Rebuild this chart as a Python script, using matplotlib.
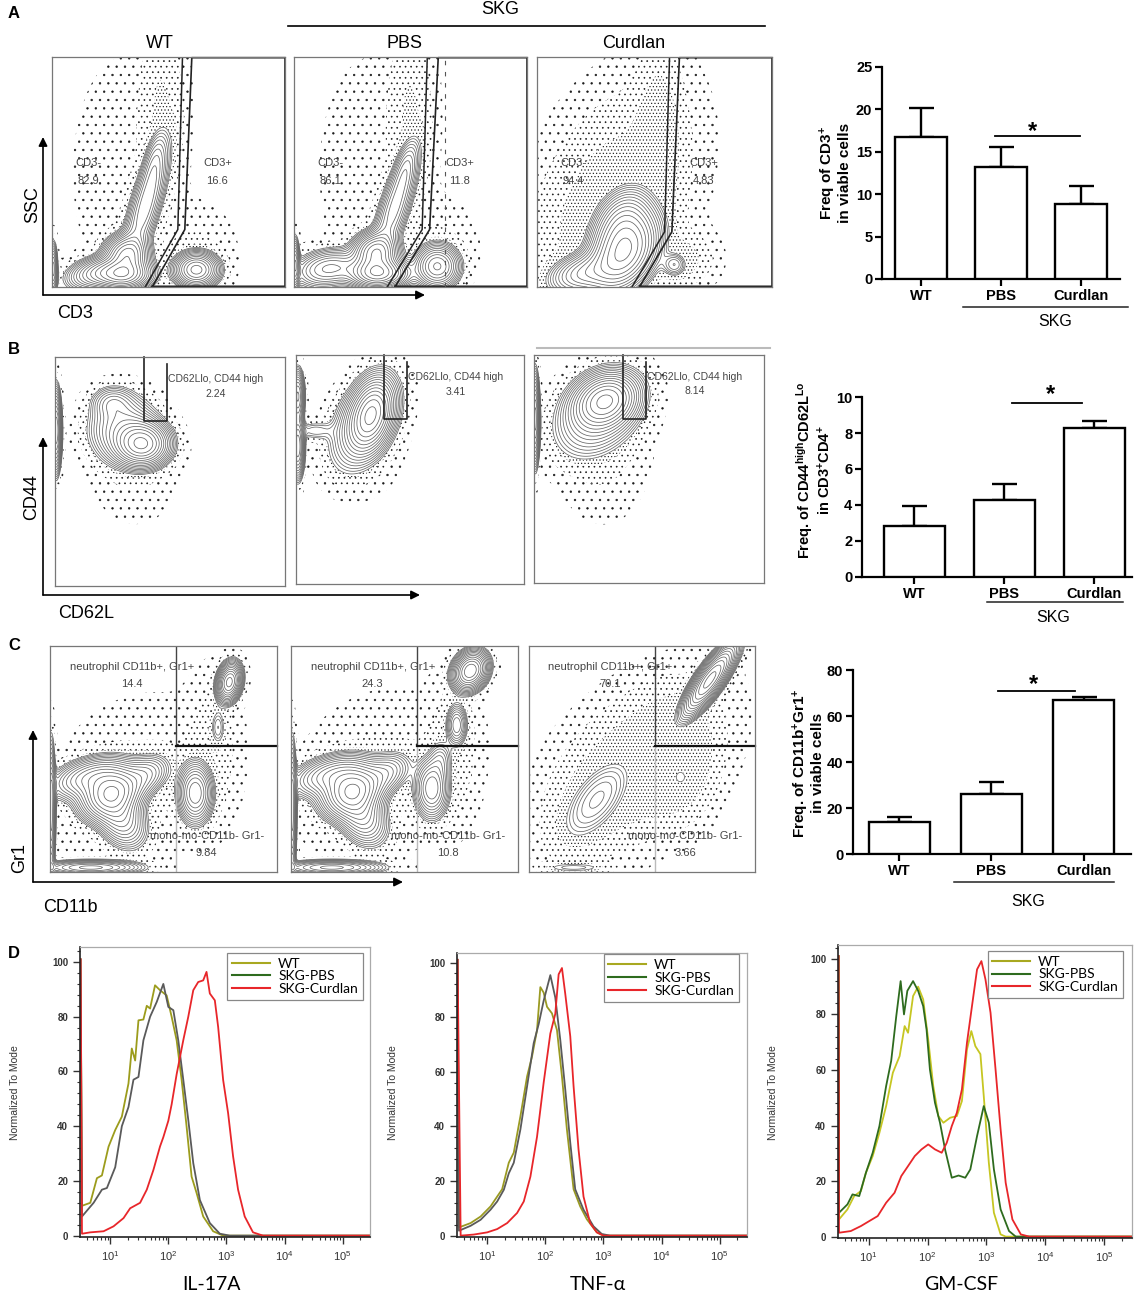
import numpy as np
import matplotlib
matplotlib.use('Agg')
import matplotlib.pyplot as plt
from matplotlib.lines import Line2D
from matplotlib.ticker import FixedLocator, LogLocator, LogFormatterSciNotation, MultipleLocator, NullFormatter

plt.rcParams['font.family'] = ['Liberation Sans', 'DejaVu Sans']
plt.rcParams['mathtext.fontset'] = 'custom'
plt.rcParams['mathtext.rm'] = 'Liberation Sans'
plt.rcParams['mathtext.bf'] = 'Liberation Sans:bold'
plt.rcParams['mathtext.it'] = 'Liberation Sans:italic'
plt.rcParams['hatch.color'] = '#1a1a1a'
plt.rcParams['hatch.linewidth'] = 0.45

W, H = 1135, 1297

# ---------------- bar chart data ----------------
groups = ['WT', 'PBS', 'Curdlan']
cd3_mean = [16.8, 13.2, 8.85]
cd3_top = [20.2, 15.6, 11.0]
cd44_mean = [2.85, 4.3, 8.3]
cd44_top = [3.92, 5.15, 8.65]
gr1_mean = [13.8, 26.1, 66.8]
gr1_top = [15.9, 31.2, 68.4]

# ---------------- flow plot data ----------------
# density components (cx, cy, sx, sy, rho, weight) in relative box units
a_wt_core = [(0.30, 0.055, 0.065, 0.035, 0.0, 1.0), (0.32, 0.14, 0.05, 0.045, 0.0, 0.7),
             (0.40, 0.35, 0.055, 0.15, 0.75, 0.35), (0.44, 0.55, 0.03, 0.08, 0.5, 0.12),
             (0.19, 0.06, 0.07, 0.04, 0.3, 0.35), (0.62, 0.075, 0.05, 0.04, 0.0, 0.8),
             (0.005, 0.08, 0.01, 0.06, 0.0, 0.4)]
a_wt_halo = [(0.47, 0.80, 0.06, 0.25, 0.0, 0.03), (0.30, 0.50, 0.15, 0.35, 0.0, 0.008),
             (0.62, 0.15, 0.10, 0.12, 0.0, 0.015)]
a_pbs_core = [(0.36, 0.06, 0.065, 0.035, 0.0, 1.0), (0.35, 0.15, 0.05, 0.045, 0.0, 0.75),
              (0.43, 0.34, 0.055, 0.14, 0.75, 0.3), (0.48, 0.52, 0.03, 0.07, 0.5, 0.12),
              (0.15, 0.08, 0.08, 0.045, 0.2, 0.35), (0.615, 0.09, 0.05, 0.05, 0.0, 0.55),
              (0.005, 0.10, 0.01, 0.06, 0.0, 0.4)]
a_pbs_halo = [(0.50, 0.78, 0.06, 0.25, 0.0, 0.03), (0.32, 0.50, 0.15, 0.35, 0.0, 0.008),
              (0.63, 0.18, 0.10, 0.12, 0.0, 0.012)]
a_cur_core = [(0.37, 0.15, 0.075, 0.09, 0.35, 1.0), (0.36, 0.28, 0.065, 0.08, 0.3, 0.35),
              (0.20, 0.06, 0.08, 0.05, 0.3, 0.3), (0.585, 0.097, 0.03, 0.03, 0.0, 0.12)]
a_cur_halo = [(0.30, 0.35, 0.20, 0.30, 0.4, 0.05), (0.52, 0.65, 0.06, 0.25, 0.0, 0.04),
              (0.62, 0.12, 0.08, 0.07, 0.0, 0.04)]

b_wt_core = [(0.38, 0.62, 0.06, 0.05, 0.0, 1.0), (0.30, 0.68, 0.08, 0.08, 0.0, 0.3),
             (0.25, 0.80, 0.05, 0.04, 0.0, 0.15), (0.005, 0.68, 0.012, 0.09, 0.0, 0.8)]
b_wt_halo = [(0.35, 0.52, 0.12, 0.15, 0.0, 0.012)]
b_pbs_core = [(0.33, 0.74, 0.05, 0.08, 0.3, 1.0), (0.30, 0.70, 0.08, 0.11, 0.4, 0.3),
              (0.008, 0.60, 0.015, 0.07, 0.0, 0.7), (0.008, 0.82, 0.015, 0.06, 0.0, 0.6),
              (0.08, 0.67, 0.05, 0.025, 0.0, 0.08)]
b_pbs_halo = [(0.32, 0.60, 0.10, 0.15, 0.0, 0.008)]
b_cur_core = [(0.31, 0.80, 0.07, 0.06, 0.2, 1.0), (0.28, 0.74, 0.10, 0.10, 0.3, 0.3),
              (0.005, 0.72, 0.01, 0.10, 0.0, 0.8)]
b_cur_halo = [(0.30, 0.58, 0.12, 0.18, 0.0, 0.015)]

c_wt_core = [(0.27, 0.35, 0.07, 0.06, 0.2, 1.0), (0.17, 0.42, 0.09, 0.05, 0.4, 0.35),
             (0.31, 0.24, 0.06, 0.07, -0.3, 0.35), (0.42, 0.43, 0.06, 0.05, 0.3, 0.2),
             (0.64, 0.35, 0.04, 0.07, 0.0, 0.5), (0.74, 0.64, 0.02, 0.05, 0.0, 0.08),
             (0.79, 0.84, 0.028, 0.045, 0.2, 0.9), (0.18, 0.02, 0.12, 0.018, 0.0, 0.35),
             (0.005, 0.28, 0.01, 0.15, 0.0, 0.5)]
c_wt_halo = [(0.38, 0.40, 0.22, 0.22, 0.2, 0.015), (0.72, 0.55, 0.07, 0.20, 0.0, 0.02)]
c_pbs_core = [(0.27, 0.36, 0.07, 0.06, 0.2, 1.0), (0.17, 0.43, 0.09, 0.05, 0.4, 0.35),
              (0.31, 0.25, 0.06, 0.07, -0.3, 0.35), (0.42, 0.44, 0.06, 0.05, 0.3, 0.2),
              (0.62, 0.37, 0.04, 0.07, 0.0, 0.4), (0.73, 0.65, 0.025, 0.05, 0.0, 0.25),
              (0.66, 0.50, 0.03, 0.05, 0.0, 0.1), (0.79, 0.89, 0.04, 0.045, 0.2, 1.0),
              (0.18, 0.02, 0.12, 0.018, 0.0, 0.35), (0.005, 0.28, 0.01, 0.15, 0.0, 0.5)]
c_pbs_halo = [(0.38, 0.42, 0.22, 0.22, 0.2, 0.015), (0.72, 0.55, 0.07, 0.20, 0.0, 0.02)]
c_cur_core = [(0.30, 0.32, 0.085, 0.10, 0.6, 0.12), (0.67, 0.42, 0.035, 0.04, 0.0, 0.04),
              (0.80, 0.85, 0.06, 0.08, 0.82, 1.0), (0.20, 0.02, 0.10, 0.015, 0.0, 0.05)]
c_cur_halo = [(0.45, 0.45, 0.22, 0.22, 0.5, 0.06), (0.65, 0.50, 0.10, 0.15, 0.0, 0.06)]

# ---------------- histogram data (log10 x, % of mode) ----------------
il17_wt_x = [0.514, 0.657, 0.771, 0.857, 0.971, 1.086, 1.2, 1.314, 1.371, 1.429, 1.486, 1.571, 1.629,
             1.686, 1.771, 1.857, 1.971, 2.057, 2.143, 2.229, 2.314, 2.4, 2.486, 2.6, 2.771, 2.943]
il17_wt_y = [10.9, 12, 21, 22, 32.5, 38.6, 43.5, 55.6, 68.4, 64, 78.7, 79, 84,
             83, 91.5, 89.7, 87.8, 80, 71.4, 56.9, 39.9, 21.6, 15.6, 7, 1.6, 0]
il17_pbs_x = [0.514, 0.714, 0.857, 0.943, 1.086, 1.2, 1.314, 1.4, 1.486, 1.571, 1.686, 1.8, 1.914,
              2.0, 2.086, 2.171, 2.257, 2.343, 2.429, 2.543, 2.714, 2.886, 3.057]
il17_pbs_y = [7, 12, 16.8, 17.4, 25, 40, 47, 57, 58, 71.4, 80, 85.4, 92,
              83.6, 82.4, 71.4, 57, 42.3, 26.5, 13, 4.6, 0.7, 0]
il17_cur_x = [0.514, 0.657, 0.886, 1.057, 1.229, 1.343, 1.514, 1.629, 1.743, 1.857, 1.914, 2.0, 2.057,
              2.143, 2.257, 2.343, 2.429, 2.514, 2.6, 2.657, 2.714, 2.8, 2.857, 2.943, 3.029, 3.114,
              3.2, 3.314, 3.457, 3.629]
il17_cur_y = [0.7, 1.2, 1.6, 3.4, 6.4, 10, 12, 16.8, 24, 32.6, 36, 42, 48,
              59, 71.4, 80, 89.7, 92.7, 93.3, 96.4, 88.5, 86, 76.3, 56.9, 44.7, 29,
              16.8, 7, 1.2, 0]

tnf_wt_x = [0.514, 0.714, 0.886, 1.057, 1.171, 1.257, 1.371, 1.457, 1.571, 1.686, 1.771, 1.857,
            1.914, 1.971, 2.029, 2.114, 2.2, 2.286, 2.371, 2.486, 2.6, 2.714, 2.886, 3.0]
tnf_wt_y = [3, 4.6, 7, 10.7, 14.3, 17, 26.7, 30.4, 43.7, 58.3, 65.6, 75.3,
            91, 89, 83.8, 81.4, 75.3, 58.3, 38.9, 17, 10.7, 6, 1.2, 0]
tnf_pbs_x = [0.514, 0.714, 0.886, 1.057, 1.171, 1.286, 1.371, 1.457, 1.571, 1.686, 1.8, 1.886,
             1.971, 2.086, 2.171, 2.257, 2.343, 2.429, 2.514, 2.657, 2.829, 2.971, 3.114]
tnf_pbs_y = [1.8, 3.6, 5.8, 9.5, 12.5, 16.8, 22.8, 26.7, 38.9, 54.7, 70.5, 77.5,
             86, 95.4, 87.2, 71.7, 53.5, 34, 17, 9.5, 3.4, 0.6, 0]
tnf_cur_x = [0.543, 0.771, 1.0, 1.171, 1.343, 1.514, 1.629, 1.743, 1.857, 1.971, 2.086, 2.171,
             2.229, 2.286, 2.343, 2.429, 2.486, 2.571, 2.657, 2.771, 2.886, 3.0]
tnf_cur_y = [0, 0.4, 1.2, 2.4, 4.6, 8.3, 12.5, 21.6, 36.2, 56, 74, 81.2,
             95.7, 98, 88.5, 73, 54.7, 31.6, 14.3, 4.6, 1.2, 0]

gm_wt_x = [0.497, 0.64, 0.754, 0.869, 0.954, 1.069, 1.183, 1.297, 1.411, 1.526, 1.611, 1.669, 1.754,
           1.84, 1.926, 2.011, 2.097, 2.183, 2.269, 2.383, 2.497, 2.583, 2.669, 2.743, 2.811, 2.897,
           2.954, 3.04, 3.126, 3.24, 3.326]
gm_wt_y = [6.2, 9.8, 14.6, 16.4, 23, 29, 37.4, 47, 59, 65, 75.8, 73.4, 86.6,
           90, 85.4, 71, 54.2, 43.4, 41, 42.8, 43.4, 48.8, 67.4, 74, 68.6, 65.7,
           50.6, 26.6, 8.6, 0.8, 0]
gm_pbs_x = [0.497, 0.64, 0.726, 0.84, 0.954, 1.069, 1.183, 1.297, 1.383, 1.469, 1.543, 1.6, 1.657,
            1.754, 1.84, 1.926, 1.983, 2.04, 2.126, 2.211, 2.297, 2.411, 2.526, 2.64, 2.726, 2.84,
            2.954, 3.04, 3.126, 3.24, 3.383, 3.497]
gm_pbs_y = [8.6, 11.6, 15.2, 14.6, 23, 30.2, 39.8, 54.2, 63.3, 79.4, 92, 80, 88.5,
            92, 88.5, 83, 74.6, 60.2, 48.2, 41, 31.4, 21.2, 22, 21.2, 24.2, 36.2,
            47, 41, 24.2, 9.8, 2, 0]
gm_cur_x = [0.497, 0.697, 0.869, 1.011, 1.154, 1.297, 1.44, 1.554, 1.669, 1.783, 1.897, 2.011, 2.126,
            2.24, 2.326, 2.411, 2.497, 2.583, 2.669, 2.754, 2.84, 2.914, 2.983, 3.069, 3.154, 3.24,
            3.326, 3.44, 3.583, 3.726]
gm_cur_y = [1.4, 2, 3.8, 5.6, 7.4, 12.2, 15.8, 21.8, 25.4, 29, 31.4, 33.2, 31.4,
            30.2, 33.8, 39.8, 44.6, 53, 69.8, 83, 96.2, 99.2, 92.6, 80.6, 60.2, 38.6,
            19.4, 6.2, 0.8, 0]

legend_names = ['WT', 'SKG-PBS', 'SKG-Curdlan']

fig = plt.figure(figsize=(W / 100, H / 100), dpi=100)


def px_axes(x0, y0, x1, y1):
    return fig.add_axes([x0 / W, 1 - y1 / H, (x1 - x0) / W, (y1 - y0) / H])


bg = fig.add_axes([0, 0, 1, 1])
bg.set_xlim(0, W)
bg.set_ylim(H, 0)
bg.axis('off')
bg.set_zorder(10)
bg.patch.set_alpha(0)

GRID = np.linspace(0, 1, 240)
X, Y = np.meshgrid(GRID, GRID)


def mixture(comps):
    Z = np.zeros_like(X)
    for cx, cy, sx, sy, rho, w in comps:
        dx = (X - cx) / sx
        dy = (Y - cy) / sy
        Z += w * np.exp(-(dx ** 2 - 2 * rho * dx * dy + dy ** 2) / (2 * (1 - rho ** 2)))
    return Z


def flow_axes(box, core, halo, nlev=15):
    ax = px_axes(*box)
    ax.set_xlim(0, 1)
    ax.set_ylim(0, 1)
    ax.set_xticks([])
    ax.set_yticks([])
    for s in ax.spines.values():
        s.set_color('#777')
        s.set_linewidth(0.9)
    Zc = mixture(core)
    Zc = Zc / Zc.max()
    low = 0.035
    Zd = np.ma.masked_where(Zc > low, mixture(halo) + Zc)
    ax.contourf(X, Y, Zd, levels=[0.003, 0.012, 0.03, 10], colors='none',
                hatches=['..', '...', '.....'])
    ax.contour(X, Y, Zc, levels=np.geomspace(low, 0.9, nlev), colors='#666',
               linewidths=0.55)
    return ax


# ================= row A =================
a_boxes = [(52, 57, 285, 287), (294, 57, 527, 287), (537, 57, 772, 287)]
a_cores = [a_wt_core, a_pbs_core, a_cur_core]
a_halos = [a_wt_halo, a_pbs_halo, a_cur_halo]
a_gl = [[(0.40, 0), (0.54, 0.25), (0.56, 1)], [(0.40, 0), (0.55, 0.25), (0.572, 1)],
        [(0.404, 0), (0.543, 0.24), (0.564, 1)]]
a_gr = [[(0.43, 0), (0.57, 0.25), (0.60, 1)], [(0.433, 0), (0.582, 0.25), (0.619, 1)],
        [(0.436, 0), (0.574, 0.24), (0.606, 1)]]
a_neg = ['82.9', '86.1', '94.4']
a_pos = ['16.6', '11.8', '4.83']
for box, core, halo, gl, gr, neg, pos in zip(a_boxes, a_cores, a_halos, a_gl, a_gr, a_neg, a_pos):
    ax = flow_axes(box, core, halo)
    ax.plot(*zip(*gl), color='#222', lw=1.1)
    gx = [p[0] for p in gr] + [1.0, 1.0, gr[0][0]]
    gy = [p[1] for p in gr[:2]] + [0.997, 0.997, 0.003, 0.003]
    ax.plot(gx, gy, color='#222', lw=1.2, clip_on=False)
    ax.text(0.155, 0.54, 'CD3-', color='#444', fontsize=8, ha='center', va='center')
    ax.text(0.155, 0.46, neg, color='#444', fontsize=8, ha='center', va='center')
    ax.text(0.71, 0.54, 'CD3+', color='#444', fontsize=8, ha='center', va='center')
    ax.text(0.71, 0.46, pos, color='#444', fontsize=8, ha='center', va='center')
    if neg == '86.1':
        ax.plot([0.65, 0.65], [0, 1], color='#555', lw=0.8, ls=(0, (4, 6)))

bg.text(14, 14, 'A', fontsize=12, fontweight='bold', ha='center', va='center')
bg.text(500, 10, 'SKG', fontsize=13, ha='center', va='center')
bg.plot([288, 765], [26, 26], color='k', lw=1.2)
for t, x in zip(['WT', 'PBS', 'Curdlan'], [160, 405, 634]):
    bg.text(x, 43, t, fontsize=13, ha='center', va='center')


def axis_arrows(x, y, xend, ytop, xlab, xlab_pos, ylab, ylab_pos):
    arr = dict(arrowstyle='-|>', lw=1.2, color='k', mutation_scale=13, shrinkA=0, shrinkB=0)
    bg.annotate('', xy=(x, ytop), xytext=(x, y), arrowprops=arr)
    bg.annotate('', xy=(xend, y), xytext=(x, y), arrowprops=arr)
    bg.text(*xlab_pos, xlab, fontsize=13, ha='center', va='center')
    bg.text(*ylab_pos, ylab, fontsize=13, ha='center', va='center', rotation=90)


axis_arrows(43, 295, 425, 137, 'CD3', (75, 313), 'SSC', (33, 205))

# ================= row B =================
b_boxes = [(55, 357, 285, 586), (296, 355, 524, 584), (534, 355, 764, 583)]
b_cores = [b_wt_core, b_pbs_core, b_cur_core]
b_halos = [b_wt_halo, b_pbs_halo, b_cur_halo]
b_vals = ['2.24', '3.41', '8.14']
for box, core, halo, v in zip(b_boxes, b_cores, b_halos, b_vals):
    ax = flow_axes(box, core, halo)
    ax.plot([0.387, 0.387, 0.485, 0.485], [1.0, 0.72, 0.72, 0.97], color='#222', lw=1.2,
            clip_on=False)
    ax.text(0.70, 0.905, 'CD62Llo, CD44 high', color='#444', fontsize=7.5, ha='center', va='center')
    ax.text(0.70, 0.84, v, color='#444', fontsize=7.5, ha='center', va='center')
bg.plot([537, 770], [348, 348], color='#bbb', lw=1.5)
bg.text(14, 350, 'B', fontsize=12, fontweight='bold', ha='center', va='center')
axis_arrows(43, 595, 420, 437, 'CD62L', (86, 613), 'CD44', (32, 497))

# ================= row C =================
c_boxes = [(50, 646, 277, 872), (291, 646, 518, 872), (529, 646, 755, 872)]
c_cores = [c_wt_core, c_pbs_core, c_cur_core]
c_halos = [c_wt_halo, c_pbs_halo, c_cur_halo]
c_neu = ['14.4', '24.3', '70.1']
c_mono = ['9.84', '10.8', '3.66']
for box, core, halo, n1, n2 in zip(c_boxes, c_cores, c_halos, c_neu, c_mono):
    ax = flow_axes(box, core, halo)
    ax.plot([0.556, 0.556], [1.0, 0.557], color='#444', lw=1.0)
    ax.plot([0.556, 0.556], [0.557, 0.0], color='#bbb', lw=1.0)
    ax.plot([0.556, 1.0], [0.557, 0.557], color='#111', lw=1.6, clip_on=False)
    ax.text(0.36, 0.905, 'neutrophil CD11b+, Gr1+', color='#444', fontsize=8, ha='center', va='center')
    ax.text(0.36, 0.83, n1, color='#444', fontsize=8, ha='center', va='center')
    ax.text(0.69, 0.16, 'mono-mo-CD11b- Gr1-', color='#444', fontsize=8, ha='center', va='center')
    ax.text(0.69, 0.085, n2, color='#444', fontsize=8, ha='center', va='center')
bg.text(14, 645, 'C', fontsize=12, fontweight='bold', ha='center', va='center')
axis_arrows(33, 882, 403, 730, 'CD11b', (70, 908), 'Gr1', (20, 858))


# ================= bar charts =================
def bar_panel(rect, xlim, width, means, tops, ymax, ystep, sig_x, sig_y, star_xy, ylabel, ylab_xy,
              ylab_size, skg_line, skg_text):
    ax = px_axes(*rect)
    x = np.arange(len(groups))
    means = np.array(means)
    tops = np.array(tops)
    ax.bar(x, means, width, color='white', edgecolor='black', linewidth=1.7, zorder=3)
    ax.errorbar(x, means, yerr=[np.zeros(len(x)), tops - means], fmt='none', ecolor='k',
                elinewidth=1.7, capsize=9, capthick=1.7, zorder=2)
    ax.set_xlim(*xlim)
    ax.set_ylim(0, ymax)
    ax.set_yticks(np.arange(0, ymax + 0.01, ystep))
    ax.set_xticks(x)
    ax.set_xticklabels(groups)
    for s in ['top', 'right']:
        ax.spines[s].set_visible(False)
    for s in ['left', 'bottom']:
        ax.spines[s].set_linewidth(1.6)
    ax.tick_params(direction='out', length=5, width=1.6, labelsize=10.5, pad=2)
    for lab in ax.get_xticklabels() + ax.get_yticklabels():
        lab.set_fontweight('bold')
    ax.patch.set_alpha(0)
    ax.plot(sig_x, [sig_y, sig_y], color='k', lw=1.3, clip_on=False)
    ax.text(*star_xy, '*', fontsize=17, fontweight='bold', ha='center', va='center')
    bg.text(*ylab_xy, ylabel, rotation=90, fontsize=ylab_size, fontweight='bold', ha='center',
            va='center', multialignment='center', linespacing=1.05)
    bg.plot(skg_line[:2], [skg_line[2]] * 2, color='#222', lw=1.1)
    bg.text(*skg_text, 'SKG', fontsize=11.5, ha='center', va='center')
    return ax


bar_panel((882, 67, 1120, 279), (-0.49, 2.49), 0.66, cd3_mean, cd3_top, 25, 5,
          [0.93, 1.99], 16.9, (1.40, 17.4),
          'Freq of CD3$^\\mathbf{+}$\nin viable cells', (835, 173), 11,
          (963, 1128, 307), (1055, 322))
bar_panel((862, 397, 1132, 577), (-0.58, 2.42), 0.68, cd44_mean, cd44_top, 10, 2,
          [1.09, 1.86], 9.67, (1.51, 10.15),
          'Freq. of CD44$^\\mathbf{high}$CD62L$^\\mathbf{Lo}$\nin CD3$^\\mathbf{+}$CD4$^\\mathbf{+}$',
          (814, 470), 10.5, (987, 1123, 602), (1053, 617))
bar_panel((853, 670, 1131, 854), (-0.505, 2.516), 0.67, gr1_mean, gr1_top, 80, 20,
          [1.07, 1.91], 70.9, (1.46, 73.8),
          'Freq. of CD11b$^\\mathbf{+}$Gr1$^\\mathbf{+}$\nin viable cells', (808, 763), 11,
          (954, 1114, 882), (1028, 901))

# ================= row D =================
legend_colors = ['#a8a820', '#2e6b1e', '#e8262a']


def hist_panel(rect, curves, ytop, xlabel, xlab_xy, ylab_x, anchor):
    ax = px_axes(*rect)
    for lx, ly, col in curves:
        xs = np.r_[0.49, lx, 5.5]
        ys = np.r_[101, ly, 0]
        ax.plot(10 ** xs, ys, color=col, lw=1.3)
    ax.set_xscale('log')
    ax.set_xlim(10 ** 0.48, 10 ** 5.47)
    ax.set_ylim(-0.5, ytop)
    ax.xaxis.set_major_locator(FixedLocator([10, 100, 1000, 1e4, 1e5]))
    ax.xaxis.set_major_formatter(LogFormatterSciNotation())
    ax.xaxis.set_minor_locator(LogLocator(subs=np.arange(2, 10), numticks=20))
    ax.xaxis.set_minor_formatter(NullFormatter())
    ax.set_yticks([0, 20, 40, 60, 80, 100])
    ax.yaxis.set_minor_locator(MultipleLocator(4))
    ax.tick_params(which='major', direction='out', length=5, width=1.0, colors='#333',
                   labelsize=8)
    ax.tick_params(which='minor', direction='out', length=2.5, width=0.8, colors='#333')
    for lab in ax.get_yticklabels():
        lab.set_fontweight('bold')
        lab.set_fontsize(7)
    for s in ['left', 'bottom']:
        ax.spines[s].set_color('#222')
        ax.spines[s].set_linewidth(1.2)
    for s in ['top', 'right']:
        ax.spines[s].set_color('#aaa')
        ax.spines[s].set_linewidth(0.9)
    handles = [Line2D([], [], color=c, lw=1.5) for c in legend_colors]
    leg = ax.legend(handles, legend_names, loc='upper right', bbox_to_anchor=anchor,
                    borderaxespad=0, frameon=True, fancybox=False, framealpha=1,
                    edgecolor='#888', handlelength=2.7, handletextpad=0.6, labelspacing=0.05,
                    borderpad=0.35, prop={'family': ['Lato', 'DejaVu Sans'], 'size': 10})
    leg.get_frame().set_linewidth(0.9)
    bg.text(*xlab_xy, xlabel, fontsize=14, ha='center', va='center',
            family=['Lato', 'DejaVu Sans'])
    bg.text(ylab_x, 1093, 'Normalized To Mode', fontsize=7.5, rotation=90, ha='center',
            va='center', color='#333')
    return ax


hist_panel((80, 947, 370, 1237),
           [(il17_wt_x, il17_wt_y, '#9c9c1c'), (il17_pbs_x, il17_pbs_y, '#5a5a5a'),
            (il17_cur_x, il17_cur_y, '#e8262a')],
           105.5, 'IL-17A', (212, 1284), 15, (0.975, 0.98))
hist_panel((457, 953, 747, 1237),
           [(tnf_wt_x, tnf_wt_y, '#9a9a22'), (tnf_pbs_x, tnf_pbs_y, '#5a5a5a'),
            (tnf_cur_x, tnf_cur_y, '#e8262a')],
           103.5, 'TNF-α', (598, 1284), 393, (0.972, 0.995))
hist_panel((838, 945, 1132, 1238),
           [(gm_wt_x, gm_wt_y, '#c6c622'), (gm_pbs_x, gm_pbs_y, '#2e6b1e'),
            (gm_cur_x, gm_cur_y, '#e8262a')],
           105, 'GM-CSF', (961, 1284), 773, (0.969, 0.98))
bg.text(14, 953, 'D', fontsize=12, fontweight='bold', ha='center', va='center')

fig.savefig('out.png', dpi=100)
